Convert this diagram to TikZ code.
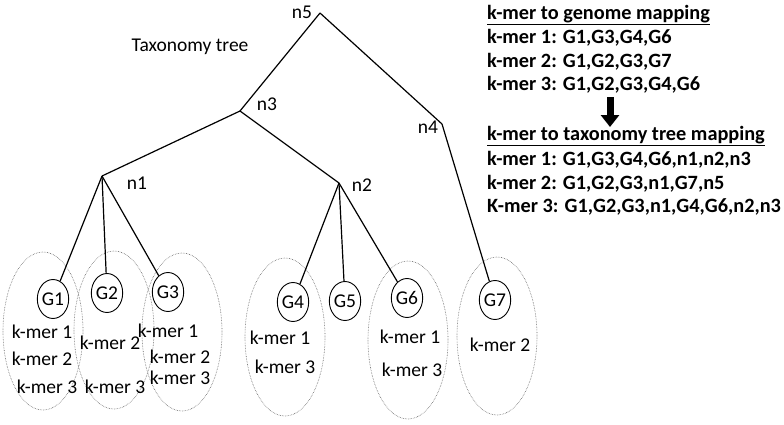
\documentclass[tikz,border=0pt]{standalone}
\usepackage{fontspec}
\setmainfont{Carlito}
\usetikzlibrary{shapes.geometric,arrows.meta}
\newcommand{\mapfont}{\fontsize{19.5}{23}\selectfont}
\tikzstyle{genome} = [ellipse, draw=black, line width=0.9pt, minimum width=30pt, minimum height=39pt, inner sep=0pt]
\tikzstyle{group} = [ellipse, draw=black!60, densely dotted, line width=0.6pt, minimum width=80pt, minimum height=158pt]
\tikzstyle{branch} = [line width=1.2pt]
\tikzstyle{kmer} = [inner sep=0pt]
\tikzstyle{maptext} = [anchor=west, inner sep=0pt, font=\fontsize{20.3}{24}\selectfont\bfseries]
\tikzstyle{blockarrow} = [line width=7pt, -{Triangle[width=18pt,length=12pt]}]

\begin{document}
\begin{tikzpicture}[x=1pt,y=-1pt,font=\mapfont]
		\useasboundingbox (0,0) rectangle (784,424);

		% genome groups
		\node (grp1) [group] at (43,331) {};
		\node (grp2) [group] at (114,330) {};
		\node (grp3) [group] at (182,332) {};
		\node (grp4) [group] at (285,337) {};
		\node (grp6) [group] at (408,340) {};
		\node (grp7) [group] at (497,336) {};

		% tree
		\coordinate (n5) at (320,13);
		\coordinate (n3) at (240,111);
		\coordinate (n4) at (442,124);
		\coordinate (n1) at (102,176);
		\coordinate (n2) at (339,183);
		\node (ln5) [kmer] at (302,12) {n5};
		\node (ln3) [kmer] at (267,104) {n3};
		\node (ln4) [kmer] at (428,127) {n4};
		\node (ln1) [kmer] at (137,183) {n1};
		\node (ln2) [kmer] at (362,185) {n2};
		\node (title) [kmer] at (190,47) {Taxonomy tree};

		\node (G1) [genome] at (53,299) {G1};
		\node (G2) [genome] at (107,293) {G2};
		\node (G3) [genome] at (168,292) {G3};
		\node (G4) [genome] at (293,302) {G4};
		\node (G5) [genome] at (345,301) {G5};
		\node (G6) [genome] at (407,298) {G6};
		\node (G7) [genome] at (495,300) {G7};

		\draw [branch] (n5) -- (n3);
		\draw [branch] (n5) -- (n4);
		\draw [branch] (n3) -- (n1);
		\draw [branch] (n3) -- (n2);
		\draw [branch] (n1) -- (G1);
		\draw [branch] (n1) -- (G2);
		\draw [branch] (n1) -- (G3);
		\draw [branch] (n2) -- (G4);
		\draw [branch] (n2) -- (G5);
		\draw [branch] (n2) -- (G6);
		\draw [branch] (n4) -- (G7);

		% k-mers in each genome
		\node (G1k1) [kmer] at (42,332) {k-mer 1};
		\node (G1k2) [kmer] at (42,359) {k-mer 2};
		\node (G1k3) [kmer] at (47,387) {k-mer 3};
		\node (G2k2) [kmer] at (110,343) {k-mer 2};
		\node (G2k3) [kmer] at (115,387) {k-mer 3};
		\node (G3k1) [kmer] at (168,331) {k-mer 1};
		\node (G3k2) [kmer] at (180,357) {k-mer 2};
		\node (G3k3) [kmer] at (180,378) {k-mer 3};
		\node (G4k1) [kmer] at (280,338) {k-mer 1};
		\node (G4k3) [kmer] at (285,367) {k-mer 3};
		\node (G6k1) [kmer] at (410,337) {k-mer 1};
		\node (G6k3) [kmer] at (412,370) {k-mer 3};
		\node (G7k2) [kmer] at (500,345) {k-mer 2};

		% mappings
		\node (genomemap) [maptext] at (487,15) {\underline{k-mer to genome mapping}};
		\node (gm1) [maptext] at (487,38) {k-mer 1: G1,G3,G4,G6};
		\node (gm2) [maptext] at (487,62) {k-mer 2: G1,G2,G3,G7};
		\node (gm3) [maptext] at (487,85) {k-mer 3: G1,G2,G3,G4,G6};
		\coordinate (arrtop) at (610,97);
		\coordinate (arrbot) at (610,127);
		\draw [blockarrow] (arrtop) -- (arrbot);
		\node (treemap) [maptext] at (487,136) {\underline{k-mer to taxonomy tree mapping}};
		\node (tm1) [maptext] at (487,160) {k-mer 1: G1,G3,G4,G6,n1,n2,n3};
		\node (tm2) [maptext] at (487,184) {k-mer 2: G1,G2,G3,n1,G7,n5};
		\node (tm3) [maptext] at (487,207) {K-mer 3: G1,G2,G3,n1,G4,G6,n2,n3};

		\end{tikzpicture}
\end{document}
